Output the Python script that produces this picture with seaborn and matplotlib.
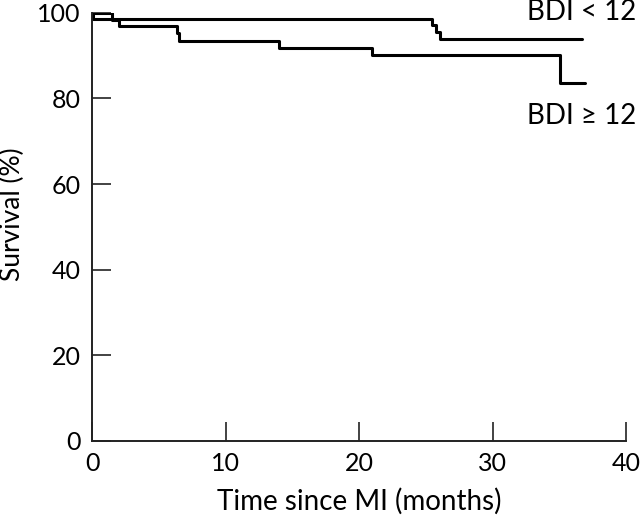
import matplotlib
matplotlib.use("Agg")
import matplotlib.pyplot as plt
import seaborn as sns
import pandas as pd

# Kaplan-Meier step data
time_low = [0, 0.1, 25.45, 25.8, 26.05, 36.7]
surv_low = [100, 98.5, 97.1, 95.6, 93.9, 93.9]
time_high = [0, 1.5, 2.0, 6.35, 6.5, 14.0, 21.0, 35.05, 36.9]
surv_high = [100, 98.2, 96.8, 95.3, 93.5, 91.8, 90.2, 83.7, 83.7]
groups = ["BDI < 12", "BDI \u2265 12"]
x_ticks = [0, 10, 20, 30, 40]
y_ticks = [0, 20, 40, 60, 80, 100]

df = pd.concat([
    pd.DataFrame({"time": time_low, "surv": surv_low, "group": groups[0]}),
    pd.DataFrame({"time": time_high, "surv": surv_high, "group": groups[1]}),
])

sns.set_style("ticks")
plt.rcParams["font.family"] = ["Lato", "DejaVu Sans"]
plt.rcParams["text.color"] = "black"
plt.rcParams["axes.labelcolor"] = "black"

fig = plt.figure(figsize=(6.4, 5.17), dpi=100)
ax = fig.add_axes([92/640, 76/517, (626-92)/640, (441-12.7)/517])

sns.lineplot(data=df, x="time", y="surv", hue="group", units="group",
             estimator=None, sort=False, drawstyle="steps-post",
             palette=["black", "black"], linewidth=2.2, legend=False, ax=ax)

ax.set_xlim(0, 40)
ax.set_ylim(0, 100)
ax.set_xticks(x_ticks)
ax.set_yticks(y_ticks)
ax.tick_params(direction="in", length=14, width=1.2, labelsize=18, pad=8,
               colors="#222222", labelcolor="black")
for s in ["top", "right"]:
    ax.spines[s].set_visible(False)
for s in ["left", "bottom"]:
    ax.spines[s].set_linewidth(1.4)
    ax.spines[s].set_color("#222222")

ax.set_xlabel("Time since MI (months)", fontsize=20, labelpad=9)
ax.set_ylabel("Survival (%)", fontsize=19)
ax.yaxis.set_label_coords(-0.126, 0.53)

ax.text(40.8, 100.1, groups[0], fontsize=20, ha="right", va="center", clip_on=False)
ax.text(40.8, 75.9, groups[1], fontsize=20, ha="right", va="center", clip_on=False)

fig.savefig("out.png", dpi=100)
